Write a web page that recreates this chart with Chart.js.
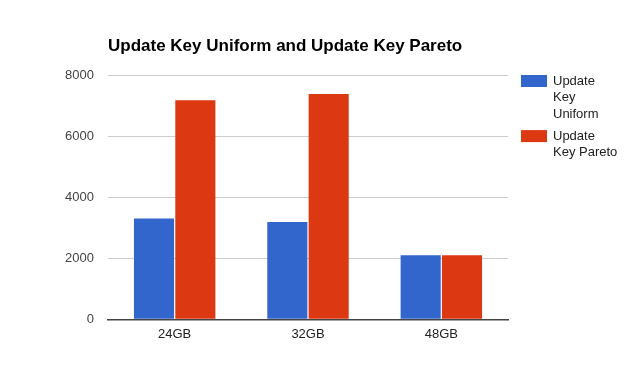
<!DOCTYPE html>
<html>
<head>
<meta charset="utf-8">
<script src="https://cdn.jsdelivr.net/npm/chart.js@4"></script>
<style>
  html, body { margin: 0; padding: 0; background: #fff; }
  #wrap { width: 624px; height: 389px; position: relative; }
</style>
</head>
<body>
<div id="wrap"><canvas id="chart01"></canvas></div>
<script>
// data
var categories = ["24GB", "32GB", "48GB"];
var seriesNames = ["Update Key Uniform", "Update Key Pareto"];
var uniformValues = [3300, 3190, 2100];
var paretoValues = [7170, 7380, 2100];
var yTicks = [0, 2000, 4000, 6000, 8000];
var titleText = "Update Key Uniform and Update Key Pareto";

var colors = ["#3366cc", "#dc3912"];

// title + wrapped legend drawn on the canvas
var extrasPlugin = {
  id: 'extras',
  afterDraw: function (chart) {
    var ctx = chart.ctx;
    var area = chart.chartArea;
    ctx.save();
    ctx.fillStyle = '#000';
    ctx.font = 'bold 17px "Liberation Sans", Arial, sans-serif';
    ctx.textBaseline = 'alphabetic';
    ctx.textAlign = 'left';
    ctx.fillText(titleText, area.left, 51);

    ctx.font = '13px "Liberation Sans", Arial, sans-serif';
    ctx.fillStyle = '#222';
    ctx.textBaseline = 'middle';
    var y = area.top + 6;
    chart.data.datasets.forEach(function (ds) {
      ctx.fillStyle = ds.backgroundColor;
      ctx.fillRect(521, y - 6, 26, 12);
      ctx.fillStyle = '#222';
      // wrap words to fit
      var words = ds.label.split(' ');
      var lines = [];
      var cur = '';
      words.forEach(function (w) {
        var test = cur ? cur + ' ' + w : w;
        if (cur && ctx.measureText(test).width > 66) {
          lines.push(cur);
          cur = w;
        } else {
          cur = test;
        }
      });
      lines.push(cur);
      lines.forEach(function (ln, i) {
        ctx.fillText(ln, 553, y + i * 16.7);
      });
      y += lines.length * 16.7 + 5;
    });
    ctx.restore();
  }
};

var ctx = document.getElementById('chart01').getContext('2d');
var chart = new Chart(ctx, {
  type: 'bar',
  data: {
    labels: categories,
    datasets: [{
      label: seriesNames[0],
      data: uniformValues,
      backgroundColor: colors[0]
    }, {
      label: seriesNames[1],
      data: paretoValues,
      backgroundColor: colors[1]
    }]
  },
  options: {
    responsive: true,
    maintainAspectRatio: false,
    animation: false,
    categoryPercentage: 0.62,
    barPercentage: 0.97,
    layout: {
      padding: { top: 75, right: 116, bottom: 0, left: 0 }
    },
    plugins: {
      legend: { display: false },
      title: { display: false },
      tooltip: { enabled: false }
    },
    scales: {
      x: {
        grid: { display: false, drawTicks: false },
        border: { display: true, color: '#444', width: 1.5 },
        ticks: {
          color: '#222',
          padding: 7,
          font: { family: '"Liberation Sans", Arial, sans-serif', size: 13 }
        },
        afterFit: function (scale) { scale.height = 69.7; }
      },
      y: {
        min: 0,
        max: 8000,
        afterBuildTicks: function (scale) {
          scale.ticks = yTicks.map(function (v) { return { value: v }; });
        },
        grid: { color: '#cccccc', drawTicks: false, lineWidth: 1 },
        border: { display: false },
        ticks: {
          color: '#444',
          padding: 14,
          font: { family: '"Liberation Sans", Arial, sans-serif', size: 13 },
          callback: function (v) { return String(v); }
        },
        afterFit: function (scale) { scale.width = 108; }
      }
    }
  },
  plugins: [extrasPlugin]
});
</script>
</body>
</html>
